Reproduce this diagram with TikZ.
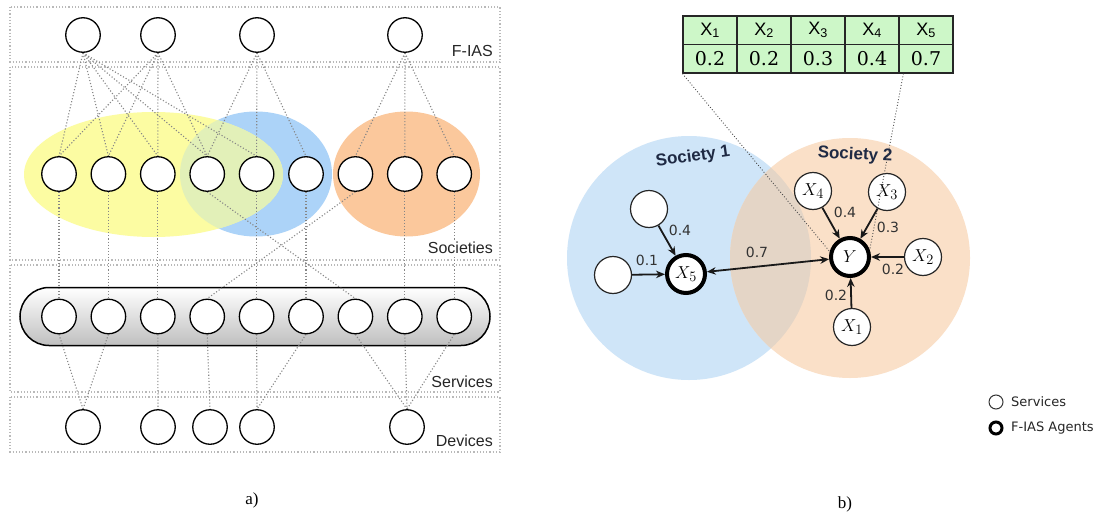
\documentclass[tikz,border=0pt]{standalone}
\usepackage{fontspec}
\setmainfont{Liberation Serif}
\newfontfamily\lsans{Liberation Sans}
\newfontfamily\dvsans{DejaVu Sans}
\newfontfamily\dvserif{DejaVu Serif}
\usetikzlibrary{arrows.meta,calc}
\pgfdeclarelayer{back}
\pgfdeclarelayer{lines}
\pgfsetlayers{back,lines,main}
\definecolor{ayellow}{HTML}{FCFCA2}
\definecolor{ablue}{HTML}{ACD3F8}
\definecolor{aorange}{HTML}{FBC89C}
\definecolor{ayb}{HTML}{E2F0B8}
\definecolor{bblue}{HTML}{CFE5F8}
\definecolor{borange}{HTML}{FAE0C8}
\definecolor{bover}{HTML}{E4D5C6}
\definecolor{tgreen}{HTML}{CDF7C8}
\definecolor{socnavy}{HTML}{1F2A44}
\begin{document}
\begin{tikzpicture}[x=1pt,y=-1pt,
  anode/.style={circle, draw=black, line width=1.3pt, fill=white, minimum size=34.5pt, inner sep=0pt},
  conn/.style={draw=gray!95, dotted, line width=1.1pt},
  zone/.style={draw=gray!55, dotted, line width=1.2pt},
  zonelabel/.style={font=\lsans\fontsize{16}{18}\selectfont, anchor=east, fill=white, inner sep=1pt, text=black!85},
  bnode/.style={circle, draw=black!85, line width=1.2pt, fill=white, minimum size=37pt, inner sep=0pt, font=\fontsize{19}{20}\selectfont},
  fnode/.style={circle, draw=black, line width=4pt, fill=white, minimum size=38pt, inner sep=0pt, font=\fontsize{19}{20}\selectfont},
  arr/.style={-{Stealth[length=9pt,width=7.5pt]}, line width=1.8pt, draw=black!90},
  elab/.style={font=\dvsans\fontsize{14}{16}\selectfont, text=black!80, inner sep=0pt},
  tcell/.style={draw=black!85, line width=1.2pt, fill=tgreen, minimum width=54pt, minimum height=28.5pt, inner sep=0pt},
  soclab/.style={font=\lsans\bfseries\fontsize{17}{18}\selectfont, text=socnavy, inner sep=0pt},
  ptr/.style={draw=black!70, dotted, line width=0.9pt}
]
\useasboundingbox (0,0) rectangle (1108,519);

% ================= panel a =================
\begin{pgfonlayer}{back}
  \fill[white] (0,0) rectangle (1108,519);
  \draw[zone] (10,7) rectangle (500,62);
  \draw[zone] (10,67) rectangle (500,260);
  \draw[zone] (10,265) rectangle (500,392);
  \draw[zone] (10,397) rectangle (500,452);
  \fill[ablue] (256,174) ellipse [x radius=76, y radius=62.5];
  \fill[ayellow] (153.5,174.5) ellipse [x radius=129.5, y radius=62.5];
  \begin{scope}
    \clip (256,174) ellipse [x radius=76, y radius=62.5];
    \fill[ayb] (153.5,174.5) ellipse [x radius=129.5, y radius=62.5];
  \end{scope}
  \fill[aorange] (406.5,174) ellipse [x radius=73.5, y radius=62.5];
  \node[draw=black, line width=1.5pt, rounded corners=29pt, minimum width=470pt, minimum height=58pt,
        top color=white, bottom color=gray!50, inner sep=0pt] (pill) at (255,316.5) {};
  % panel b background circles
  \fill[bblue] (689,258) circle [radius=122];
  \fill[borange] (850,258) circle [radius=120];
  \begin{scope}
    \clip (689,258) circle [radius=122];
    \fill[bover] (850,258) circle [radius=120];
  \end{scope}
\end{pgfonlayer}

\foreach \i/\x in {1/83,2/158,3/257,4/405}
  \node[anode] (F\i) at (\x,35) {};
\foreach \i/\x in {1/59,2/108.4,3/157.8,4/207.2,5/256.6,6/306,7/355.4,8/404.8,9/454.2} {
  \node[anode] (S\i) at (\x,174) {};
  \node[anode] (V\i) at (\x,316.5) {};
}
\foreach \i/\x in {1/83,2/158,3/210,4/257,5/407}
  \node[anode] (D\i) at (\x,427) {};

\begin{pgfonlayer}{lines}
  \foreach \a/\b in {F1/S1,F1/S2,F1/S3,F1/S4,F1/S5,F2/S1,F2/S2,F2/S3,F2/S4,F3/S4,F3/S5,F3/S6,F4/S7,F4/S8,F4/S9}
    \draw[conn] (\a.south) -- (\b.north);
  \foreach \a/\b in {S1/V1,S2/V2,S3/V3,S4/V7,S5/V5,S6/V6,S7/V4,S8/V8,S9/V9}
    \draw[conn] (\a.south) -- (\b.north);
  \foreach \a/\b in {V1/D1,V2/D1,V3/D2,V4/D3,V5/D4,V6/D4,V7/D5,V8/D5,V9/D5}
    \draw[conn] (\a.south) -- (\b.north);
\end{pgfonlayer}

\node[zonelabel] (lfias) at (494,51) {F-IAS};
\node[zonelabel] (lsoc) at (494,248) {Societies};
\node[zonelabel] (lserv) at (494,382) {Services};
\node[zonelabel] (ldev) at (494,441) {Devices};

\node[font=\fontsize{17}{19}\selectfont] (capa) at (252,500) {a)};

% ================= panel b =================
\node[soclab, rotate=8] (soc1) at (693,157) {Society 1};
\node[soclab, rotate=-3] (soc2) at (855,155) {Society 2};

\foreach \i in {1,...,5} {
  \node[tcell, font=\lsans\fontsize{18}{20}\selectfont] (h\i) at ({710+54*(\i-1)},30.25) {X\textsubscript{\i}};
}
\node[tcell, font=\dvserif\fontsize{19}{21}\selectfont] (v1) at (710,58.75) {0.2};
\node[tcell, font=\dvserif\fontsize{19}{21}\selectfont] (v2) at (764,58.75) {0.2};
\node[tcell, font=\dvserif\fontsize{19}{21}\selectfont] (v3) at (818,58.75) {0.3};
\node[tcell, font=\dvserif\fontsize{19}{21}\selectfont] (v4) at (872,58.75) {0.4};
\node[tcell, font=\dvserif\fontsize{19}{21}\selectfont] (v5) at (926,58.75) {0.7};

\node[fnode] (Y) at (850,257) {$Y$};
\node[fnode] (X5) at (686,274) {$X_{5}$};
\node[bnode] (X4) at (813,191) {$X_{4}$};
\node[bnode] (X3) at (887,192) {$X_{3}$};
\node[bnode] (X2) at (923,257) {$X_{2}$};
\node[bnode] (X1) at (852,327) {$X_{1}$};
\node[bnode] (A) at (649,209) {};
\node[bnode] (B) at (613,275) {};

\draw[arr] (A) -- (X5);
\draw[arr] (B) -- (X5);
\draw[arr, {Stealth[length=9pt,width=7.5pt]}-{Stealth[length=9pt,width=7.5pt]}] (X5) -- (Y);
\draw[arr] (X4) -- (Y);
\draw[arr] (X3) -- (Y);
\draw[arr] (X2) -- (Y);
\draw[arr] (X1) -- (Y);

\node[elab] (l1) at (680,230) {0.4};
\node[elab] (l2) at (647,260) {0.1};
\node[elab] (l3) at (757,252) {0.7};
\node[elab] (l4) at (845,212) {0.4};
\node[elab] (l5) at (888,227) {0.3};
\node[elab] (l6) at (893,269) {0.2};
\node[elab] (l7) at (836,295) {0.2};

\coordinate (t5) at ($(v5.south west)+(5,0)$);
\draw[ptr] (v1.south west) -- (Y.165);
\draw[ptr] (t5) -- (Y.20);

% legend
\node[circle, draw=black!80, line width=1pt, minimum size=14pt, inner sep=0pt] (lgs) at (996,402) {};
\node[circle, draw=black, line width=3pt, minimum size=12pt, inner sep=0pt] (lgf) at (996,428) {};
\node[anchor=west, font=\dvsans\fontsize{13}{15}\selectfont, text=black!85, inner sep=0pt] (lgst) at (1011,402) {Services};
\node[anchor=west, font=\dvsans\fontsize{13}{15}\selectfont, text=black!85, inner sep=0pt] (lgft) at (1011,428) {F-IAS Agents};

\node[font=\fontsize{17}{19}\selectfont] (capb) at (845,504) {b)};
\end{tikzpicture}
\end{document}
